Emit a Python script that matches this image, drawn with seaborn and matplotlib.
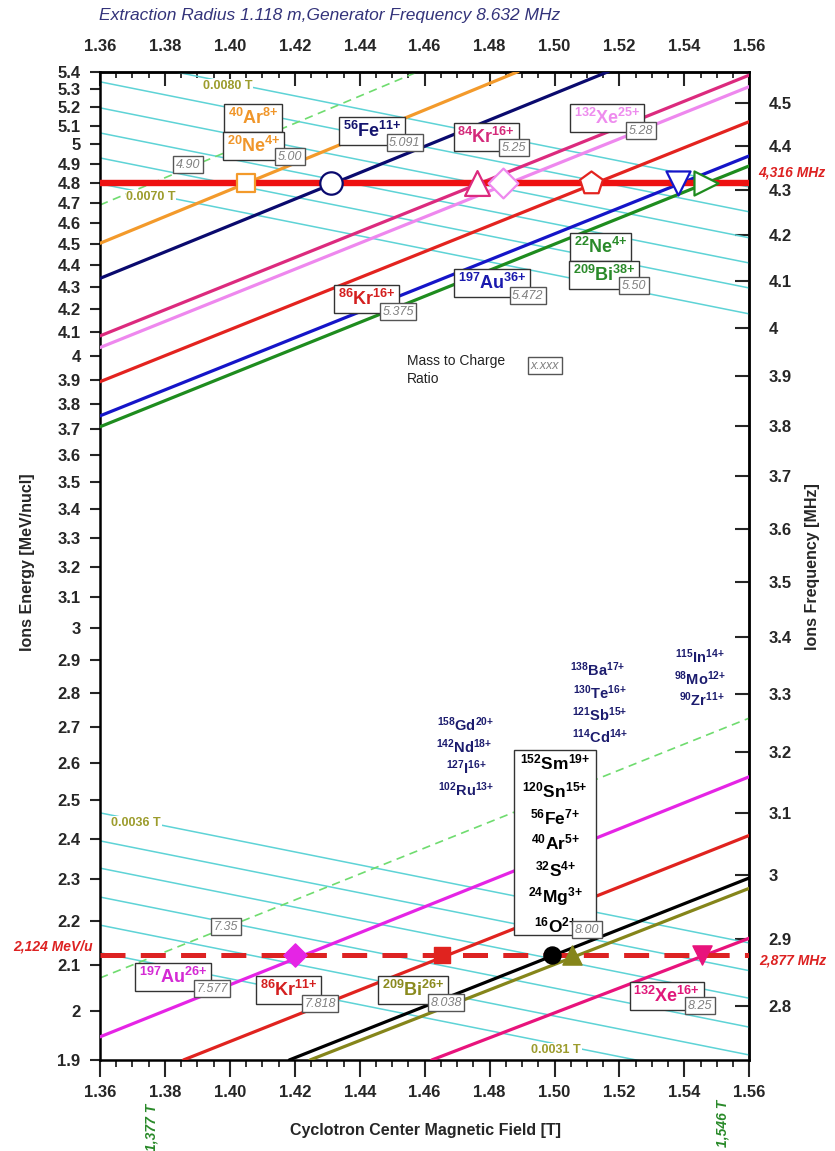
import numpy as np
import pandas as pd
import matplotlib
matplotlib.use("Agg")
import matplotlib.pyplot as plt
import seaborn as sns
from matplotlib.patches import Rectangle
from matplotlib.ticker import FixedLocator, FuncFormatter, NullLocator

# ---- data ----
# ion lines crossing the 4.8 MeV/u level (B [T], E [MeV/u] at both ends)
upper_ions = ["Ar40_8", "Fe56_11", "Kr84_16", "Xe132_25", "Kr86_16", "Au197_36", "Bi209_38"]
upper_aq = [5.00, 5.091, 5.25, 5.28, 5.375, 5.472, 5.50]
upper_b0 = [1.36, 1.36, 1.36, 1.36, 1.36, 1.36, 1.36]
upper_e0 = [4.504, 4.340, 4.084, 4.034, 3.891, 3.753, 3.710]
upper_b1 = [1.4888, 1.5166, 1.56, 1.56, 1.56, 1.56, 1.56]
upper_e1 = [5.40, 5.40, 5.38, 5.315, 5.122, 4.940, 4.888]
upper_mark_b = [1.405, 1.431, 1.476, 1.484, 1.5112, 1.538, 1.5467]

# ion lines crossing the 2.124 MeV/u level
lower_ions = ["Au197_26", "Kr86_11", "O16_2", "Bi209_26", "Xe132_16"]
lower_aq = [7.577, 7.818, 8.00, 8.038, 8.25]
lower_b0 = [1.36, 1.3857, 1.4183, 1.4247, 1.4622]
lower_e0 = [1.947, 1.90, 1.90, 1.90, 1.90]
lower_b1 = [1.56, 1.56, 1.56, 1.56, 1.56]
lower_e1 = [2.563, 2.409, 2.303, 2.278, 2.161]
lower_mark_b = [1.420, 1.4652, 1.4991, 1.5055, 1.5453]

e_upper = 4.8
e_lower = 2.124

# A/Q limit lines (4.90 and 7.35)
limit_b0 = [1.36, 1.36]
limit_e0 = [4.69, 2.072]
limit_b1 = [1.458, 1.56]
limit_e1 = [5.40, 2.727]

# cyan field-correction lines
cyan_up_left = [5.485, 5.342, 5.197, 5.061, 4.929, 4.796]
cyan_up_right = [4.780, 4.656, 4.530, 4.411, 4.296, 4.180]
cyan_lo_left = [2.467, 2.395, 2.327, 2.257, 2.191, 2.128]
cyan_lo_right = [2.150, 2.088, 2.028, 1.967, 1.910, 1.855]

x_ticks = [1.36, 1.38, 1.40, 1.42, 1.44, 1.46, 1.48, 1.50, 1.52, 1.54, 1.56]
e_ticks = [round(v / 10, 1) for v in range(19, 55)]
f_ticks = [round(v / 10, 1) for v in range(28, 46)]

# ---- style ----
sns.set_theme(style="ticks")
plt.rcParams["font.family"] = ["Liberation Sans", "DejaVu Sans"]
plt.rcParams["font.weight"] = "bold"
plt.rcParams["mathtext.fontset"] = "custom"
plt.rcParams["mathtext.rm"] = "Liberation Sans"
plt.rcParams["mathtext.bf"] = "Liberation Sans:bold"
plt.rcParams["mathtext.it"] = "Liberation Sans:italic"
plt.rcParams["mathtext.default"] = "bf"
plt.rcParams["lines.scale_dashes"] = False

upper_colors = ["#F39A2B", "#0A0A6E", "#DC2A7E", "#EE88EE", "#E3231F", "#1515C8", "#1E8C1E"]
lower_colors = ["#E524E5", "#E0231F", "#000000", "#85851A", "#E8137C"]
upper_markers = ["s", "o", "^", "D", "p", "v", ">"]
upper_sizes = [170, 260, 320, 230, 300, 300, 300]
lower_markers = ["D", "s", "o", "^", "v"]
lower_sizes = [140, 120, 150, 190, 190]
cyan = "#5ED3D6"


def ion(a, sym, q):
    # isotope label with mass number and charge as superscripts
    return r"${}^{%s}$%s$^{%s{+}}$" % (a, sym, q)


fig = plt.figure(figsize=(8.35, 11.51), dpi=100)
ax = fig.add_axes([0.1198, 0.0791, 0.7776, 0.8587])
ax.set_yscale("log")

# cyan lines
cy = pd.DataFrame({
    "B": [1.36] * 12 + [1.56] * 12,
    "E": cyan_up_left + cyan_lo_left + cyan_up_right + cyan_lo_right,
    "line": list(range(12)) * 2,
})
sns.lineplot(data=cy, x="B", y="E", units="line", estimator=None, color=cyan,
             linewidth=1.1, ax=ax, legend=False, zorder=1)

# A/Q limit lines
for b0, e0, b1, e1 in zip(limit_b0, limit_e0, limit_b1, limit_e1):
    sns.lineplot(x=[b0, b1], y=[e0, e1], color="#6FDC6F", linewidth=1.2, ax=ax, zorder=2)
    ax.lines[-1].set_dashes([6, 4])

# ion lines
rows = []
for name, b0, e0, b1, e1 in zip(upper_ions + lower_ions, upper_b0 + lower_b0, upper_e0 + lower_e0,
                                upper_b1 + lower_b1, upper_e1 + lower_e1):
    rows += [(name, b0, e0), (name, b1, e1)]
ions = pd.DataFrame(rows, columns=["ion", "B", "E"])
pal = dict(zip(upper_ions + lower_ions, upper_colors + lower_colors))
sns.lineplot(data=ions, x="B", y="E", hue="ion", palette=pal, units="ion", estimator=None,
             linewidth=2.3, ax=ax, legend=False, zorder=3)

# working levels
sns.lineplot(x=[1.36, 1.56], y=[e_upper, e_upper], color="#EE1111", linewidth=4.6, ax=ax, zorder=4)
sns.lineplot(x=[1.36, 1.56], y=[e_lower, e_lower], color="#DD2222", linewidth=3.6, ax=ax, zorder=4)
ax.lines[-1].set_dashes([18, 11])

# markers
for b, c, m, s in zip(upper_mark_b, upper_colors, upper_markers, upper_sizes):
    sns.scatterplot(x=[b], y=[e_upper], marker=m, s=s, color=c, edgecolor=c, linewidth=1.6,
                    ax=ax, zorder=6)
    ax.collections[-1].set_facecolor("white")
for b, c, m, s in zip(lower_mark_b, lower_colors, lower_markers, lower_sizes):
    sns.scatterplot(x=[b], y=[e_lower], marker=m, s=s, color=c, edgecolor=c, linewidth=1,
                    ax=ax, zorder=6)

# ---- axes ----
ax.set_xlim(1.36, 1.56)
ax.set_ylim(1.9, 5.4)
ax.set_xlabel("")
ax.set_ylabel("")
ax.xaxis.set_major_locator(FixedLocator(x_ticks))
ax.xaxis.set_minor_locator(FixedLocator(np.arange(1.36, 1.5601, 0.005)))
ax.xaxis.set_major_formatter(FuncFormatter(lambda v, p: f"{v:.2f}"))
ax.yaxis.set_major_locator(FixedLocator(e_ticks))
ax.yaxis.set_minor_locator(NullLocator())
ax.yaxis.set_major_formatter(FuncFormatter(lambda v, p: f"{v:g}"))
ax.tick_params(axis="x", which="major", direction="out", length=12, width=1.5, labelsize=12, pad=6)
ax.tick_params(axis="x", which="minor", direction="out", length=5, width=1.3)
ax.tick_params(axis="y", which="major", direction="out", length=7, width=1.5, labelsize=12, pad=7)
for sp in ax.spines.values():
    sp.set_linewidth(1.8)
    sp.set_color("black")
    sp.set_visible(True)

top = ax.secondary_xaxis("top")
top.xaxis.set_major_locator(FixedLocator(x_ticks))
top.xaxis.set_minor_locator(FixedLocator(np.arange(1.36, 1.5601, 0.005)))
top.xaxis.set_major_formatter(FuncFormatter(lambda v, p: f"{v:.2f}"))
top.tick_params(axis="x", which="major", direction="in", length=10, width=1.5, labelsize=12, pad=13)
top.tick_params(axis="x", which="minor", direction="in", length=4, width=1.3)
top.spines["top"].set_linewidth(1.8)


def e_to_f(e):
    g = 1 + np.clip(np.asarray(e, float), 1e-9, None) / 931.494
    return np.sqrt(1 - 1 / g ** 2) * 42.678


def f_to_e(f):
    b = np.clip(np.asarray(f, float) / 42.678, 1e-9, 0.999)
    return (1 / np.sqrt(1 - b ** 2) - 1) * 931.494


right = ax.secondary_yaxis("right", functions=(e_to_f, f_to_e))
right.yaxis.set_major_locator(FixedLocator(f_ticks))
right.yaxis.set_minor_locator(NullLocator())
right.yaxis.set_major_formatter(FuncFormatter(lambda v, p: f"{v:g}"))
right.tick_params(axis="y", direction="in", length=10, width=1.5, labelsize=12, pad=14)
right.spines["right"].set_linewidth(1.8)

# ---- labels inside the plot ----
box = dict(boxstyle="square,pad=0.2", fc="white", ec="#333333", lw=1.0)
aqbox = dict(boxstyle="square,pad=0.2", fc="white", ec="#555555", lw=1.0)
tbox = dict(boxstyle="square,pad=0.05", fc="white", ec="none")

ion_labels = [
    (ion(40, "Ar", 8), 1.4071, 5.142, "#F0962A"),
    (ion(20, "Ne", 4), 1.4074, 4.992, "#F0962A"),
    (ion(56, "Fe", 11), 1.4438, 5.072, "#14146E"),
    (ion(84, "Kr", 16), 1.4789, 5.040, "#D42A7A"),
    (ion(132, "Xe", 25), 1.5162, 5.142, "#EE8CEE"),
    (ion(86, "Kr", 16), 1.4422, 4.247, "#D42020"),
    (ion(197, "Au", 36), 1.4807, 4.319, "#1A1AAE"),
    (ion(22, "Ne", 4), 1.5143, 4.487, "#2A8A2A"),
    (ion(209, "Bi", 38), 1.5152, 4.356, "#2A8A2A"),
    (ion(197, "Au", 26), 1.3825, 2.074, "#D42AD4"),
    (ion(86, "Kr", 11), 1.4182, 2.046, "#D42020"),
    (ion(209, "Bi", 26), 1.4564, 2.046, "#8A8A1E"),
    (ion(132, "Xe", 16), 1.5346, 2.033, "#E0187A"),
]
for txt, b, e, c in ion_labels:
    ax.text(b, e, txt, color=c, fontsize=13, ha="center", va="center", bbox=box, zorder=8)

aq_labels = [
    ("5.00", 1.4185, 4.935), ("5.091", 1.4539, 5.008), ("5.25", 1.4875, 4.982),
    ("5.28", 1.5266, 5.072), ("5.375", 1.4518, 4.189), ("5.472", 1.4918, 4.260),
    ("5.50", 1.5245, 4.306), ("4.90", 1.3871, 4.893), ("x.xxx", 1.4971, 3.957),
    ("7.577", 1.3945, 2.048), ("7.818", 1.4278, 2.016), ("8.038", 1.4666, 2.018),
    ("8.00", 1.5100, 2.180), ("8.25", 1.5448, 2.012), ("7.35", 1.3988, 2.187),
]
for txt, b, e in aq_labels:
    ax.text(b, e, txt, color="#808080", fontsize=9, style="italic", fontweight="normal",
            ha="center", va="center", bbox=aqbox, zorder=9)

ax.text(1.4546, 3.940, "Mass to Charge\nRatio", fontsize=10, fontweight="normal", color="#222222",
        ha="left", va="center", linespacing=1.3, zorder=8)

# black box with the 8.00 group
ax.add_patch(Rectangle((1.4875, 2.168), 0.0253, 2.637 - 2.168, fc="white", ec="#333333", lw=1.0, zorder=7))
group_800 = [
    (ion(152, "Sm", 19), 2.601), (ion(120, "Sn", 15), 2.525), (ion(56, "Fe", 7), 2.456),
    (ion(40, "Ar", 5), 2.390), (ion(32, "S", 4), 2.323), (ion(24, "Mg", 3), 2.257),
    (ion(16, "O", 2), 2.191),
]
for txt, e in group_800:
    ax.text(1.5002, e, txt, color="black", fontsize=12.5, ha="center", va="center", zorder=8)

navy_labels = [
    (ion(158, "Gd", 20), 1.4727, 2.707), (ion(142, "Nd", 18), 1.4721, 2.645),
    (ion(127, "I", 16), 1.4727, 2.587), (ion(102, "Ru", 13), 1.4727, 2.528),
    (ion(138, "Ba", 17), 1.5134, 2.869), (ion(130, "Te", 16), 1.5140, 2.800),
    (ion(121, "Sb", 15), 1.5140, 2.736), (ion(114, "Cd", 14), 1.5140, 2.673),
    (ion(115, "In", 14), 1.5448, 2.909), (ion(98, "Mo", 12), 1.5448, 2.842),
    (ion(90, "Zr", 11), 1.5454, 2.780),
]
for txt, b, e in navy_labels:
    ax.text(b, e, txt, color="#1C1C6E", fontsize=10.5, ha="center", va="center", zorder=8)

cyan_labels = [("0.0080 T", 1.3994, 5.319), ("0.0070 T", 1.3757, 4.730),
               ("0.0036 T", 1.3711, 2.441), ("0.0031 T", 1.5005, 1.920)]
for txt, b, e in cyan_labels:
    ax.text(b, e, txt, color="#9C9C2C", fontsize=9, ha="center", va="center", bbox=tbox, zorder=5)

# ---- texts around the frame ----
fig.text(0.1186, 0.9861, "Extraction Radius 1.118 m,Generator Frequency 8.632 MHz",
         family=["Liberation Sans Narrow", "Liberation Sans"], fontsize=12.5, style="italic",
         fontweight="normal", color="#33337A", ha="left", va="center")
fig.text(0.9485, 0.8497, "4,316 MHz", color="#DD2222", fontsize=10, style="italic", ha="center", va="center")
fig.text(0.9497, 0.1651, "2,877 MHz", color="#DD2222", fontsize=10, style="italic", ha="center", va="center")
fig.text(0.0635, 0.1781, "2,124 MeV/u", color="#DD2222", fontsize=10, style="italic", ha="center", va="center")
fig.text(0.509, 0.0182, "Cyclotron Center Magnetic Field [T]", fontsize=11.5, ha="center", va="center")
fig.text(0.0335, 0.5117, "Ions Energy [MeV/nucl]", fontsize=11.5, rotation=90, ha="center", va="center")
fig.text(0.9725, 0.5074, "Ions Frequency [MHz]", fontsize=11.5, rotation=90, ha="center", va="center")
fig.text(0.182, 0.0408, "1,377 T", color="#2A8A2A", fontsize=10, style="italic", rotation=90,
         ha="center", va="top")
fig.text(0.8647, 0.0443, "1,546 T", color="#2A8A2A", fontsize=10, style="italic", rotation=90,
         ha="center", va="top")

fig.savefig("out.png", dpi=100)
